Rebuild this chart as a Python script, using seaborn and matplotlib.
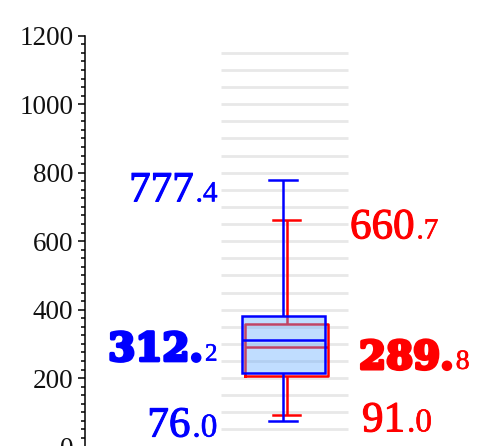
import numpy as np
import pandas as pd
import matplotlib
matplotlib.use("Agg")
import matplotlib.pyplot as plt
import matplotlib.transforms as mtransforms
import matplotlib.patheffects as pe
from matplotlib.ticker import MultipleLocator
import seaborn as sns

# five number summaries: min, q1, median, q3, max
blue_stats = [76.0, 216.0, 312.2, 381.0, 777.4]
red_stats = [91.0, 205.0, 289.8, 359.0, 660.7]
grid_levels = np.arange(50, 1200, 50)
y_ticks = [0, 200, 400, 600, 800, 1000, 1200]

fig = plt.figure(figsize=(4.85, 4.46), dpi=100)
# axes set up so one x unit = one pixel
ax = fig.add_axes([85 / 485, -0.6 / 446, 400 / 485, 410.9 / 446])

ax.hlines(grid_levels, 221, 348, color="#e8e8e8", lw=2, zorder=0)

red_df = pd.DataFrame({"pos": 286.7, "val": red_stats})
sns.boxplot(data=red_df, x="pos", y="val", orient="x", native_scale=True,
            width=83, whis=(0, 100), fill=False, color="red", saturation=1,
            linewidth=1.8, capwidths=27, ax=ax)

# blue box goes on top, its translucent fill dims the red lines under it
blue_df = pd.DataFrame({"pos": 283.5, "val": blue_stats})
sns.boxplot(data=blue_df, x="pos", y="val", orient="x", native_scale=True,
            width=83, whis=(0, 100), fill=True, color="blue", linecolor="blue",
            saturation=1, linewidth=1.8, capwidths=28,
            boxprops=dict(facecolor=(0.39, 0.67, 1.0, 0.4), edgecolor="blue", zorder=3),
            medianprops=dict(zorder=3.1),
            whiskerprops=dict(zorder=3.1),
            capprops=dict(zorder=3.1),
            ax=ax)

ax.set_xlim(85, 485)
ax.set_ylim(0, 1200)
ax.set_xlabel("")
ax.set_ylabel("")
ax.set_xticks([])
ax.set_yticks(y_ticks)
ax.yaxis.set_minor_locator(MultipleLocator(25))
ax.tick_params(axis="y", which="major", length=4.8, width=1.1, pad=3.5,
               labelsize=19.5, labelcolor="#111111")
ax.tick_params(axis="y", which="minor", length=2.8, width=1.1)
for lab in ax.get_yticklabels():
    lab.set_family("Liberation Serif")
for side in ["top", "right", "bottom"]:
    ax.spines[side].set_visible(False)
ax.spines["left"].set_linewidth(1.1)

renderer = fig.canvas.get_renderer()


def draw_label(value, x, dy, color, bold, big_size, small_size, align):
    whole, frac = f"{value:.1f}".split(".")
    if bold:
        big, small = whole + ".", frac
        big_kw = dict(family="DejaVu Serif", fontweight="bold", fontsize=big_size,
                      path_effects=[pe.withStroke(linewidth=2.4, foreground=color)])
    else:
        big, small = whole, "." + frac
        big_kw = dict(family="Liberation Serif", fontsize=big_size,
                      path_effects=[pe.withStroke(linewidth=0.8, foreground=color)])
    small_kw = dict(family="Liberation Serif", fontsize=small_size,
                    path_effects=[pe.withStroke(linewidth=0.4, foreground=color)])
    base = mtransforms.offset_copy(ax.transData, fig=fig, y=-dy, units="dots")
    gap = 2
    if align == "right":
        t = ax.text(x, value, small, color=color, ha="right", va="baseline",
                    transform=base, **small_kw)
        w = t.get_window_extent(renderer).width
        ax.text(x, value, big, color=color, ha="right", va="baseline",
                transform=mtransforms.offset_copy(base, fig=fig, x=-w - gap, units="dots"),
                **big_kw)
    else:
        t = ax.text(x, value, big, color=color, ha="left", va="baseline",
                    transform=base, **big_kw)
        w = t.get_window_extent(renderer).width
        ax.text(x, value, small, color=color, ha="left", va="baseline",
                transform=mtransforms.offset_copy(base, fig=fig, x=w + gap, units="dots"),
                **small_kw)


# blue labels on the left, red labels on the right
draw_label(blue_stats[4], 217.5, 21, "blue", False, 31, 21, "right")
draw_label(blue_stats[2], 217.5, 21, "blue", True, 28, 18, "right")
draw_label(blue_stats[0], 217.5, 16, "blue", False, 31, 24, "right")
draw_label(red_stats[4], 350, 18, "red", False, 31, 21, "left")
draw_label(red_stats[2], 359, 21.5, "red", True, 28, 20, "left")
draw_label(red_stats[0], 362, 16, "red", False, 31, 24, "left")

fig.savefig("out.png", dpi=100)
